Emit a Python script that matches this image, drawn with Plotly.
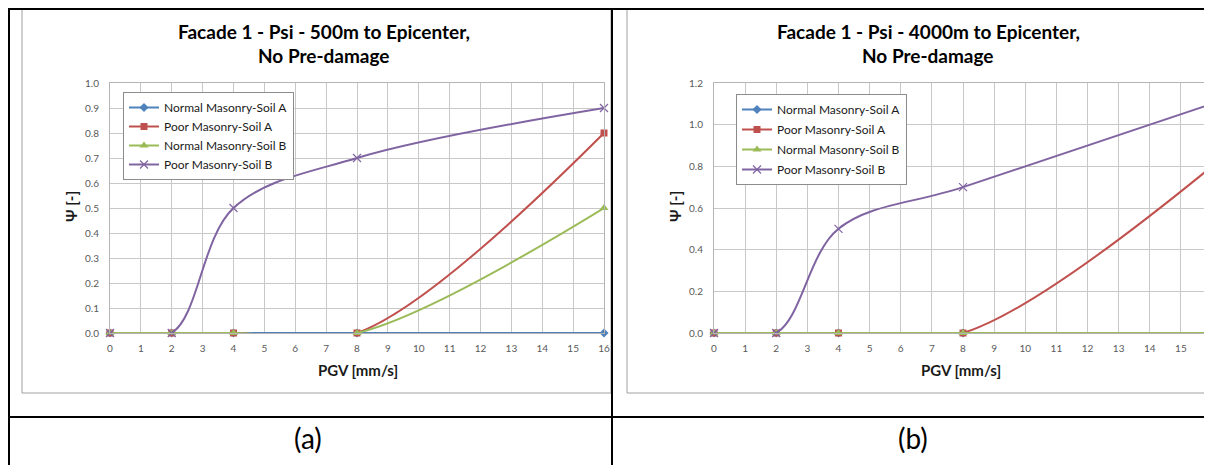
import plotly.graph_objects as go

# The page keeps the browser's default 8px body margin, so the figure starts
# at (8, 8) in the window; it is sized so that the page does not overflow.
PAGE_W, PAGE_H, PAGE_M = 1212, 473, 8
W, H = PAGE_W - PAGE_M, PAGE_H - 2 * PAGE_M

pgv = [0, 2, 4, 8, 16]
series_names = ["Normal Masonry-Soil A", "Poor Masonry-Soil A",
                "Normal Masonry-Soil B", "Poor Masonry-Soil B"]
psi_500 = [
    [0, 0, 0, 0, 0],
    [0, 0, 0, 0, 0.8],
    [0, 0, 0, 0, 0.5],
    [0, 0, 0.5, 0.7, 0.9],
]
psi_4000 = [
    [0, 0, 0, 0, 0],
    [0, 0, 0, 0, 0.8],
    [0, 0, 0, 0, 0],
    [0, 0, 0.5, 0.7, 1.1],
]
titles = [("Facade 1 - Psi - 500m to Epicenter,", "No Pre-damage"),
          ("Facade 1 - Psi - 4000m to Epicenter,", "No Pre-damage")]
captions = ["(a)", "(b)"]
x_ticks = list(range(0, 17))

colors = ["#4F81BD", "#C0504D", "#9BBB59", "#8064A2"]
symbols = ["diamond", "square", "triangle-up", "x-thin"]
sizes = [7, 7, 8, 8]

FONT = "Lato"


def px(x):
    return (x - PAGE_M) / W


def py(y):
    return 1 - (y - PAGE_M) / H


def clamp(v):
    return max(0.0, min(1.0, v))


fig = go.Figure()

for k, data in enumerate([psi_500, psi_4000]):
    xa = "x" if k == 0 else "x2"
    ya = "y" if k == 0 else "y2"
    lg = "legend" if k == 0 else "legend2"
    for i, (name, vals) in enumerate(zip(series_names, data)):
        marker = dict(symbol=symbols[i], size=sizes[i], color=colors[i])
        if symbols[i] == "x-thin":
            marker["line"] = dict(width=1.2, color=colors[i])
        fig.add_trace(go.Scatter(
            x=pgv, y=vals, name=name, mode="lines+markers",
            line=dict(color=colors[i], width=2, shape="spline", smoothing=1),
            marker=marker, xaxis=xa, yaxis=ya, legend=lg,
            legendgroup=f"g{k}{i}", cliponaxis=False,
        ))

axis_common = dict(
    showgrid=True, gridcolor="#C8C8C8", gridwidth=1, zeroline=False,
    showline=True, linecolor="#B4B4B4", linewidth=1, mirror=True,
    ticks="", automargin=False,
    tickfont=dict(family=FONT, size=10, color="#595959"),
)

fig.update_layout(
    width=W, height=H,
    margin=dict(l=0, r=0, t=0, b=0, pad=0, autoexpand=False),
    paper_bgcolor="white", plot_bgcolor="white",
    showlegend=True,
    xaxis=dict(domain=[px(110), px(604)], range=[0, 16], tickvals=x_ticks,
               anchor="y", ticklabelstandoff=6, **axis_common),
    yaxis=dict(domain=[py(333), py(83)], range=[0, 1.0], dtick=0.1,
               tickformat=".1f", anchor="x", ticklabelstandoff=8, **axis_common),
    xaxis2=dict(domain=[px(714), clamp(px(1212))], range=[0, 16], tickvals=x_ticks,
                anchor="y2", ticklabelstandoff=6, **axis_common),
    yaxis2=dict(domain=[py(333), py(83)], range=[0, 1.2], dtick=0.2,
                tickformat=".1f", anchor="x2", ticklabelstandoff=8, **axis_common),
    legend=dict(x=px(123), y=py(92), xanchor="left", yanchor="top",
                bgcolor="white", bordercolor="#8C8C8C", borderwidth=1,
                font=dict(family=FONT, size=12, color="#1a1a1a"),
                tracegroupgap=0, itemwidth=30),
    legend2=dict(x=px(736), y=py(94), xanchor="left", yanchor="top",
                 bgcolor="white", bordercolor="#8C8C8C", borderwidth=1,
                 font=dict(family=FONT, size=12, color="#1a1a1a"),
                 tracegroupgap=1, itemwidth=30),
)

# table lines & chart borders
shapes = []
for (x0, y0, x1, y1) in [(22, 8, 611, 393), (627, 8, 1230, 393)]:
    shapes.append(dict(type="rect", xref="paper", yref="paper",
                       x0=px(x0), y0=py(y0), x1=px(x1), y1=py(y1),
                       line=dict(color="#A0A0A0", width=1), layer="below"))
for (x0, y0, x1, y1) in [(8, 9, 1230, 9), (9, 8, 9, 490), (612, 8, 612, 490),
                         (8, 417, 1230, 417)]:
    shapes.append(dict(type="line", xref="paper", yref="paper",
                       x0=px(x0), y0=py(y0), x1=px(x1), y1=py(y1),
                       line=dict(color="black", width=2)))
fig.update_layout(shapes=shapes)

ann = []
for k, (cx, xt_cx, yt_x, cap_x) in enumerate([(324, 358, 71, 308),
                                                (928, 961, 675, 913)]):
    t1, t2 = titles[k]
    ann.append(dict(text=f"<b>{t1}</b>", x=px(cx), y=py(31), xref="paper",
                    yref="paper", showarrow=False, xanchor="center",
                    yanchor="middle", font=dict(family=FONT, size=19, color="black")))
    ann.append(dict(text=f"<b>{t2}</b>", x=px(cx), y=py(55), xref="paper",
                    yref="paper", showarrow=False, xanchor="center",
                    yanchor="middle", font=dict(family=FONT, size=19, color="black")))
    ann.append(dict(text="<b>PGV [mm/s]</b>", x=px(xt_cx), y=py(370), xref="paper",
                    yref="paper", showarrow=False, xanchor="center",
                    yanchor="middle", font=dict(family=FONT, size=15, color="#1a1a1a")))
    ann.append(dict(text="<b>Ψ [-]</b>", x=px(yt_x), y=py(207), xref="paper",
                    yref="paper", showarrow=False, xanchor="center",
                    yanchor="middle", textangle=-90,
                    font=dict(family=FONT, size=15, color="#1a1a1a")))
    ann.append(dict(text=captions[k], x=px(cap_x), y=py(438), xref="paper",
                    yref="paper", showarrow=False, xanchor="center",
                    yanchor="middle", font=dict(family=FONT, size=28, color="black")))
fig.update_layout(annotations=ann)

fig.write_html("out.html", config={"displayModeBar": False})
